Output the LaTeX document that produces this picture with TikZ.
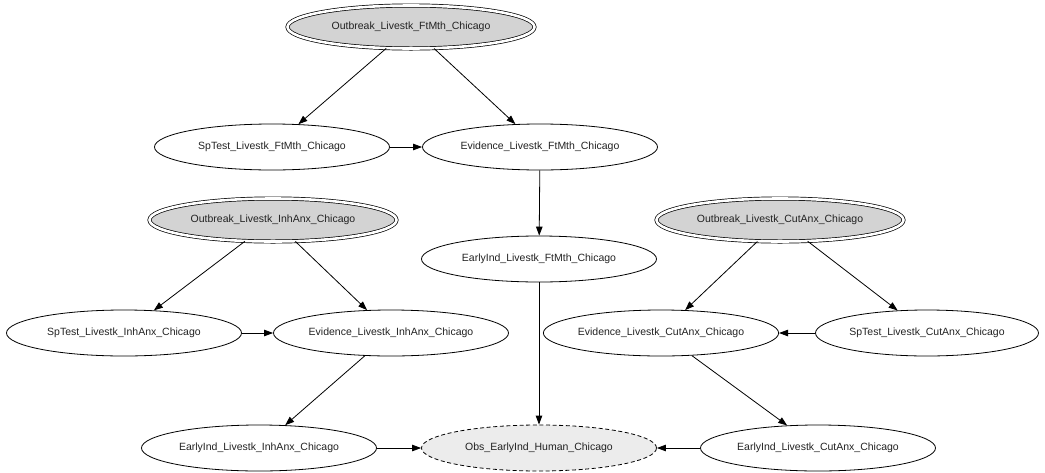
\documentclass[tikz,border=0pt]{standalone}
\usepackage{fontspec}
\setmainfont{Liberation Sans}
\usetikzlibrary{shapes.geometric,arrows.meta}

\definecolor{hidden}{RGB}{211,211,211}
\definecolor{observed}{RGB}{236,236,236}
\definecolor{ink}{RGB}{34,34,34}

\tikzset{
  var/.style={ellipse, draw=black, line width=0.8pt, inner sep=0pt,
    minimum width=235pt, minimum height=46pt,
    font=\fontsize{10.5}{12}\selectfont, text=ink},
  root/.style={var, fill=hidden, double=white, double distance=2.6pt,
    line width=0.7pt, minimum width=247pt, minimum height=43pt},
  obs/.style={var, fill=observed, dash pattern=on 4pt off 2.6pt},
  link/.style={line width=0.8pt, -{Triangle[length=9pt,width=6.5pt]}}
}

\begin{document}
\begin{tikzpicture}[x=1pt, y=-1pt]
\useasboundingbox (0,0) rectangle (1045,472);

% foot-and-mouth chain
\node[root] (oft) at (411,27) {Outbreak\_Livestk\_FtMth\_Chicago};
\node[var]  (sft) at (272,147) {SpTest\_Livestk\_FtMth\_Chicago};
\node[var]  (eft) at (540,147) {Evidence\_Livestk\_FtMth\_Chicago};
\node[var]  (ift) at (539,259) {EarlyInd\_Livestk\_FtMth\_Chicago};

% inhalational anthrax chain
\node[root] (oin) at (273,220) {Outbreak\_Livestk\_InhAnx\_Chicago};
\node[var]  (sin) at (124,333) {SpTest\_Livestk\_InhAnx\_Chicago};
\node[var]  (ein) at (391,333) {Evidence\_Livestk\_InhAnx\_Chicago};
\node[var]  (iin) at (259,448) {EarlyInd\_Livestk\_InhAnx\_Chicago};

% cutaneous anthrax chain
\node[root] (ocu) at (780,220) {Outbreak\_Livestk\_CutAnx\_Chicago};
\node[var]  (ecu) at (661,333) {Evidence\_Livestk\_CutAnx\_Chicago};
\node[var, minimum width=223pt] (scu) at (927,333) {SpTest\_Livestk\_CutAnx\_Chicago};
\node[var]  (icu) at (818,448) {EarlyInd\_Livestk\_CutAnx\_Chicago};

% observed human indicator
\node[obs]  (hum) at (539,448) {Obs\_EarlyInd\_Human\_Chicago};

\draw[link] (oft) -- (sft);
\draw[link] (oft) -- (eft);
\draw[link] (sft) -- (eft);
\draw[link] (eft) -- (ift);
\draw[link] (ift) -- (hum);

\draw[link] (oin) -- (sin);
\draw[link] (oin) -- (ein);
\draw[link] (sin) -- (ein);
\draw[link] (ein) -- (iin);
\draw[link] (iin) -- (hum);

\draw[link] (ocu) -- (ecu);
\draw[link] (ocu) -- (scu);
\draw[link] (scu) -- (ecu);
\draw[link] (ecu) -- (icu);
\draw[link] (icu) -- (hum);
\end{tikzpicture}
\end{document}
